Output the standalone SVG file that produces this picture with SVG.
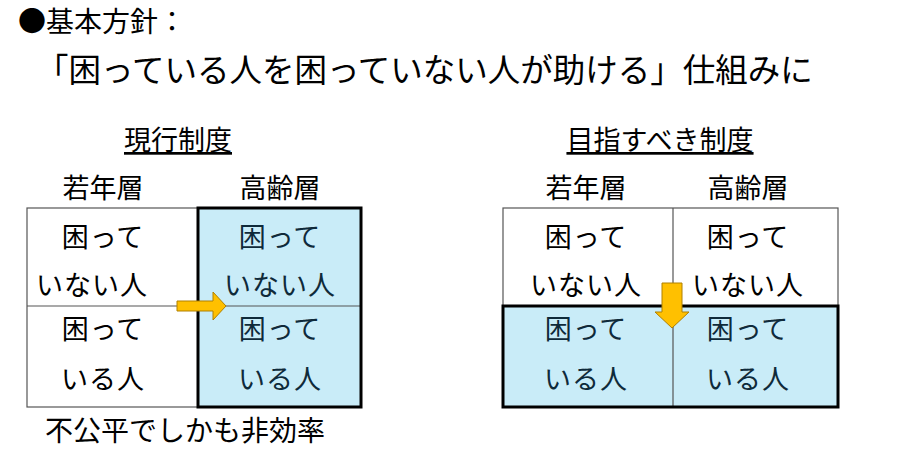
<svg xmlns="http://www.w3.org/2000/svg" width="920" height="455" viewBox="0 0 920 455">
<style>
text{font-family:"Noto Sans CJK JP","Liberation Sans",sans-serif;fill:#000}
.c{font-size:27px;text-anchor:middle;letter-spacing:1px}
.h{font-size:27px;text-anchor:middle}
.b{fill:#0f2a3a}
.thin{fill:none;stroke:#555;stroke-width:1.2}
.thick{fill:none;stroke:#000;stroke-width:3}
.arrow{fill:#ffc000;stroke:#b08000;stroke-width:1}
</style>
<rect width="920" height="455" fill="#fff"/>
<text x="18" y="32" font-size="28">●基本方針：</text>
<text x="36" y="82" font-size="32.5">「困っている人を困っていない人が助ける」仕組みに</text>
<g id="current">
<text class="h" x="178" y="150" text-decoration="underline">現行制度</text>
<text class="h" x="103" y="198">若年層</text>
<text class="h" x="280" y="198">高齢層</text>
<rect x="198" y="208" width="163" height="199" fill="#c9ecf8"/>
<rect class="thin" x="27" y="208" width="334" height="199"/>
<line class="thin" x1="27" y1="306" x2="361" y2="306"/>
<rect class="thick" x="198" y="208" width="163" height="199"/>
<text class="c" x="103" y="247">困って</text><text class="c" x="92" y="295">いない人</text>
<text class="c" x="103" y="339">困って</text><text class="c" x="103" y="389">いる人</text>
<text class="c b" x="280" y="247">困って</text><text class="c b" x="280" y="295">いない人</text>
<text class="c b" x="280" y="339">困って</text><text class="c b" x="280" y="389">いる人</text>
<text x="45" y="441" font-size="28">不公平でしかも非効率</text>
</g>
<g id="target">
<text class="h" x="660" y="150" text-decoration="underline">目指すべき制度</text>
<text class="h" x="586" y="198">若年層</text>
<text class="h" x="748" y="198">高齢層</text>
<rect x="503" y="306" width="335" height="101" fill="#c9ecf8"/>
<rect class="thin" x="503" y="208" width="335" height="199"/>
<line class="thin" x1="673" y1="208" x2="673" y2="407"/>
<rect class="thick" x="503" y="306" width="335" height="101"/>
<text class="c" x="586" y="247">困って</text><text class="c" x="586" y="295">いない人</text>
<text class="c" x="748" y="247">困って</text><text class="c" x="748" y="295">いない人</text>
<text class="c b" x="586" y="339">困って</text><text class="c b" x="586" y="389">いる人</text>
<text class="c b" x="748" y="339">困って</text><text class="c b" x="748" y="389">いる人</text>
</g>
<g id="connectors">
<path class="arrow" d="M177,301 H213 V292 L226,306 L213,320 V311 H177 Z"/>
<path class="arrow" d="M662,283 H682 V312 H689 L672,328 L655,312 H662 Z"/>
</g>
</svg>
